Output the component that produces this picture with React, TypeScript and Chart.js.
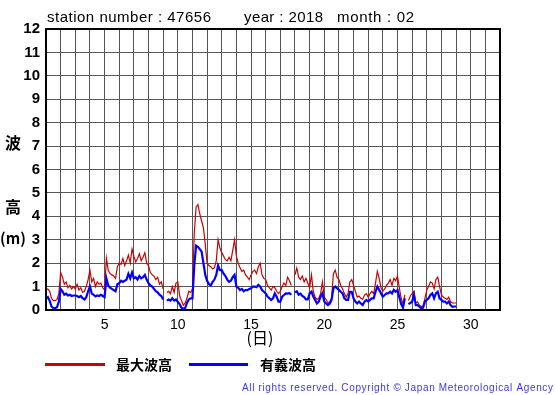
import { useEffect, useRef } from 'react';
import { Chart, registerables } from 'chart.js';

Chart.register(...registerables);

// Observation series: Feb 2018, station 47656, one value every 3 hours starting at day 1 00:00
const START_DAY = 1;
const STEP_HOURS = 3;

// 最大波高 (maximum wave height, m)
const maxWave: (number | null)[] = [
  0.85, 0.9, 0.8, 0.5, 0.4, 0.4, 0.45, 0.7,
  1.6, 1.4, 1.1, 1.2, 0.95, 1.05, 0.9, 1.0,
  0.9, 1.1, 0.85, 0.95, 0.75, 0.8, 1.0, 1.3,
  1.7, 1.2, 1.35, 1.0, 1.2, 1.1, 1.15, 0.95,
  0.85, 2.2, 1.7, 1.55, 1.5, 1.45, 1.35, 1.85,
  2.0, 1.95, 2.2, 1.9, 2.1, 2.35, 2.0, 2.6,
  2.3, 2.05, 2.2, 2.4, 2.1, 2.25, 2.45, 2.0,
  1.9, 1.6, 1.5, 1.45, 1.3, 1.4, 1.1, 1.2,
  0.9, null, 0.75, 0.8, 0.7, 1.0, 0.75, 1.15,
  1.2, 0.6, 0.4, 0.2, 0.3, 0.5, 0.8, 0.75,
  0.9, 3.3, 4.4, 4.5, 4.1, 3.8, 3.5, 2.8,
  2.0, 1.9, 1.85, 1.75, 1.8, 2.1, 3.0, 2.65,
  2.45, 2.3, 2.15, 2.1, 2.25, 2.1, 2.55, 3.0,
  2.3, 2.0, 1.8, 1.65, 1.7, 1.5, 1.4, 1.3,
  1.5, 1.65, 1.7, 1.55, 1.85, 2.0, 1.5, 1.35,
  1.3, 1.05, 0.95, 0.85, 1.0, 0.95, 0.8, 0.7,
  0.8, 1.0, 1.15, 1.05, 1.4, 1.25, 1.05, null,
  1.5, 1.8, 1.4, 1.3, 1.45, 1.2, 1.35, 1.15,
  0.95, 1.5, 0.8, 0.55, 0.45, 0.5, 0.7, 1.2,
  0.55, 0.45, 0.3, 0.35, 0.5, 1.55, 1.7, 1.4,
  1.3, 1.05, 0.9, 0.7, 0.55, 0.7, 1.2, 1.3,
  1.05, 0.8, 0.55, 0.6, 0.5, 0.45, 0.65, 0.7,
  0.55, 0.7, 0.8, 0.7, 1.15, 1.65, 1.35, 0.95,
  0.8, 0.9, 1.05, 1.15, 1.3, 1.05, 1.35, 1.25,
  1.45, 0.95, 0.5, 0.25, 0.65, null, 0.4, 0.6,
  0.7, 0.8, 0.3, 0.35, 0.2, 0.15, 0.18, 0.5,
  0.85, 1.0, 1.2, 1.15, 0.9, 1.3, 1.4, 1.0,
  0.65, 0.55, 0.5, 0.45, 0.55, 0.35, 0.3, 0.3,
  0.3,
];

// 有義波高 (significant wave height, m)
const sigWave: (number | null)[] = [
  0.5, 0.55, 0.4, 0.15, 0.08, 0.08, 0.12, 0.35,
  0.9, 0.8, 0.65, 0.7, 0.62, 0.65, 0.6, 0.62,
  0.62, 0.6, 0.55, 0.6, 0.5, 0.45, 0.55, 0.8,
  1.0, 0.7, 0.65, 0.58, 0.62, 0.6, 0.65, 0.6,
  0.55, 1.35, 1.05, 0.95, 0.9, 0.85, 0.8, 1.1,
  1.15, 1.25, 1.2, 1.25, 1.3, 1.55, 1.35, 1.6,
  1.35, 1.4, 1.3, 1.45, 1.35, 1.4, 1.5, 1.3,
  1.15, 1.05, 1.0, 0.9, 0.8, 0.75, 0.65, 0.6,
  0.45, null, 0.4, 0.45, 0.4, 0.5, 0.4, 0.45,
  0.35, 0.25, 0.1, 0.05, 0.08, 0.3, 0.45, 0.5,
  0.5, 1.9, 2.75, 2.7, 2.6, 2.5, 2.0, 1.5,
  1.25, 1.1, 1.05, 1.2, 1.3, 1.5, 1.9, 1.7,
  1.7, 1.55, 1.45, 1.3, 1.2, 1.25, 1.4, 1.5,
  1.0, 0.95, 0.85, 0.9, 0.8, 0.85, 0.85, 0.9,
  0.93, 1.0, 1.0, 0.97, 1.07, 1.0, 0.85, 0.78,
  0.71, 0.57, 0.5, 0.43, 0.5, 0.71, 0.57, 0.36,
  0.36, 0.57, 0.64, 0.71, 0.7, 0.72, 0.65, null,
  0.75, 0.8, 0.65, 0.7, 0.6, 0.55, 0.45, 0.45,
  0.71, 0.78, 0.57, 0.43, 0.28, 0.36, 0.57, 0.71,
  0.36, 0.28, 0.21, 0.28, 0.43, 0.93, 1.0, 0.93,
  0.86, 0.78, 0.71, 0.5, 0.43, 0.43, 0.78, 0.78,
  0.5, 0.36, 0.28, 0.36, 0.28, 0.21, 0.36, 0.43,
  0.36, 0.43, 0.5, 0.5, 0.78, 1.0, 0.86, 0.71,
  0.57, 0.64, 0.71, 0.71, 0.78, 0.71, 0.86, 0.78,
  0.85, 0.55, 0.25, 0.1, 0.5, null, 0.25, 0.3,
  0.36, 0.64, 0.21, 0.21, 0.14, 0.07, 0.1, 0.36,
  0.43, 0.5, 0.64, 0.71, 0.5, 0.71, 0.78, 0.5,
  0.43, 0.36, 0.36, 0.28, 0.36, 0.21, 0.14, 0.15,
  0.15,
];

const X_MIN = 1;
const X_MAX = 32;
const Y_MIN = 0;
const Y_MAX = 12;
const dayLabels = [5, 10, 15, 20, 25, 30];

const titleParts = [
  { text: 'station number : 47656', x: 47, w: 164 },
  { text: 'year : 2018', x: 244, w: 79 },
  { text: 'month : 02', x: 337, w: 77 },
];
const yTitle = ['波', '高', '(m)'];
const xTitle = '(日)';
const seriesNames = ['最大波高', '有義波高'];
const copyright = 'All rights reserved. Copyright \u00a9 Japan Meteorological Agency';

const RED = '#cc0000';
const BLUE = '#0000ff';
const SANS = '"Liberation Sans", Arial, Helvetica, sans-serif';
const CJK = '"Noto Sans CJK JP", "Noto Sans", sans-serif';

function fitText(ctx: any, text: string, x: number, y: number, target: number, align: 'left' | 'right') {
  const n = text.length;
  const w0 = ctx.measureText(text).width;
  const ls = Math.max(0, (target - w0) / (n - 1));
  ctx.letterSpacing = `${ls}px`;
  ctx.textAlign = align;
  ctx.fillText(text, align === 'right' ? x + ls : x, y);
  ctx.letterSpacing = '0px';
}

export default function App() {
  const ref = useRef<HTMLCanvasElement>(null);

  useEffect(() => {
    if (!ref.current) return;
    const toPts = (arr: (number | null)[]) =>
      arr.map((v, i) => ({ x: START_DAY + (i * STEP_HOURS) / 24, y: v }));

    const overlay = {
      id: 'overlay',
      afterDraw(chart: any) {
        const { ctx, chartArea } = chart;
        const { left, right, top, bottom } = chartArea;
        ctx.save();
        // frame
        ctx.strokeStyle = '#000';
        ctx.lineWidth = 2;
        ctx.strokeRect(left, top, right - left, bottom - top);

        // title
        ctx.fillStyle = '#000';
        ctx.textBaseline = 'alphabetic';
        ctx.font = `15px ${SANS}`;
        titleParts.forEach((p) => fitText(ctx, p.text, p.x, 22, p.w, 'left'));

        // y title
        ctx.textAlign = 'center';
        ctx.textBaseline = 'middle';
        ctx.font = `bold 16px ${CJK}`;
        ctx.fillText(yTitle[0], 13, 143);
        ctx.fillText(yTitle[1], 13, 207);
        ctx.font = `bold 15px ${CJK}`;
        ctx.fillText(yTitle[2], 13, 238);

        // x title
        ctx.font = `16px ${CJK}`;
        ctx.fillText(xTitle, 260, 338);

        // legend
        ctx.lineWidth = 3;
        ctx.strokeStyle = RED;
        ctx.beginPath();
        ctx.moveTo(45, 364.5);
        ctx.lineTo(105, 364.5);
        ctx.stroke();
        ctx.strokeStyle = BLUE;
        ctx.beginPath();
        ctx.moveTo(189, 364.5);
        ctx.lineTo(248, 364.5);
        ctx.stroke();
        ctx.textAlign = 'left';
        ctx.font = `bold 14px ${CJK}`;
        ctx.fillStyle = '#000';
        ctx.fillText(seriesNames[0], 116, 365);
        ctx.fillText(seriesNames[1], 260, 365);

        // copyright
        ctx.font = `10px ${SANS}`;
        ctx.fillStyle = '#3a3ae6';
        fitText(ctx, copyright, 553, 388, 311, 'right');
        ctx.restore();
      },
    };

    const chart = new Chart(ref.current, {
      type: 'line',
      data: {
        datasets: [
          {
            label: seriesNames[0],
            data: toPts(maxWave),
            borderColor: RED,
            borderWidth: 1.2,
            pointRadius: 0,
            tension: 0,
            spanGaps: false,
            order: 1,
          },
          {
            label: seriesNames[1],
            data: toPts(sigWave),
            borderColor: BLUE,
            borderWidth: 2.2,
            pointRadius: 0,
            tension: 0,
            spanGaps: false,
            order: 0,
          },
        ],
      },
      plugins: [overlay],
      options: {
        responsive: false,
        animation: false,
        events: [],
        layout: { padding: { left: 0, right: 55, top: 29, bottom: 0 } },
        plugins: {
          legend: { display: false },
          title: { display: false },
          tooltip: { enabled: false },
        },
        scales: {
          x: {
            type: 'linear',
            min: X_MIN,
            max: X_MAX,
            afterFit: (s: any) => {
              s.height = 85;
            },
            afterBuildTicks: (s: any) => {
              const t = [];
              for (let v = X_MIN; v <= X_MAX; v++) t.push({ value: v });
              s.ticks = t;
            },
            grid: { color: '#555', lineWidth: 1, drawTicks: false },
            border: { display: false },
            ticks: {
              autoSkip: false,
              maxRotation: 0,
              padding: 7,
              color: '#000',
              font: { family: SANS, size: 14 },
              callback: (v: any) => (dayLabels.includes(Number(v)) ? String(v) : ''),
            },
          },
          y: {
            type: 'linear',
            min: Y_MIN,
            max: Y_MAX,
            afterFit: (s: any) => {
              s.width = 46;
            },
            grid: { color: '#555', lineWidth: 1, drawTicks: false },
            border: { display: false },
            ticks: {
              stepSize: 1,
              padding: 6,
              color: '#000',
              font: { family: SANS, size: 15, weight: 'bold' },
            },
          },
        },
      },
    });
    return () => chart.destroy();
  }, []);

  return (
    <div style={{ position: 'fixed', left: 0, top: 0, width: 555, height: 395, background: '#fff' }}>
      <canvas ref={ref} width={555} height={395} style={{ width: 555, height: 395, display: 'block' }} />
    </div>
  );
}
